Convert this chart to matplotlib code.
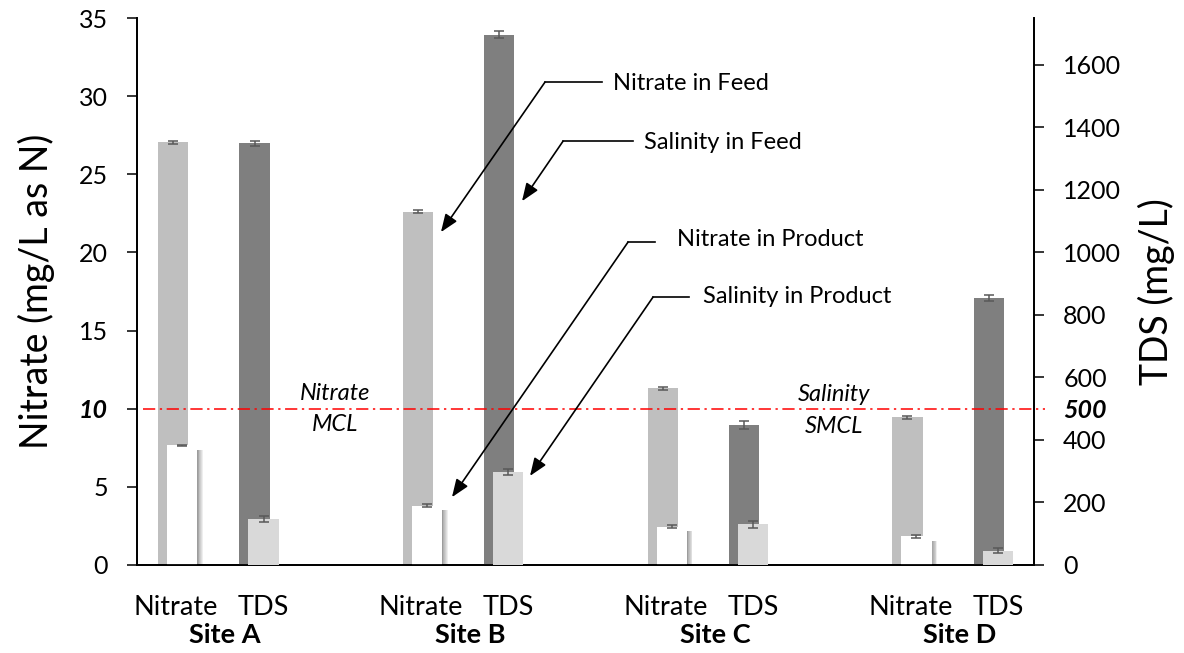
import numpy as np
import matplotlib
matplotlib.use('Agg')
from matplotlib import pyplot as plt

plt.rcParams['font.family'] = ['Lato', 'DejaVu Sans']

# data
sites = ['Site A', 'Site B', 'Site C', 'Site D']
nitrate_feed = [27.05, 22.6, 11.3, 9.45]          # mg/L as N
nitrate_feed_err = [0.1, 0.1, 0.1, 0.1]
nitrate_product = [7.65, 3.8, 2.45, 1.85]
nitrate_product_err = [0.05, 0.1, 0.1, 0.1]
tds_feed = [1350, 1697, 448, 855]                   # mg/L
tds_feed_err = [8, 12, 12, 10]
tds_product = [147, 297, 130, 45]
tds_product_err = [10, 10, 12, 8]
nitrate_mcl = 10
salinity_smcl = 500

# positions
x_nit = np.arange(len(sites)) * 3.0
x_tds = x_nit + 1.0
w = 0.37
off = 0.11

fig = plt.figure(figsize=(11.84, 6.53), dpi=100)
ax = fig.add_axes([137 / 1184, 1 - 565 / 653, 897 / 1184, 547 / 653])
ax2 = ax.twinx()

err_kw = dict(fmt='none', ecolor='#595959', elinewidth=1.1, capsize=3.6, capthick=1.1)

# nitrate bars on the left axis
ax.bar(x_nit, nitrate_feed, w, color='#BFBFBF', zorder=2)
ax.errorbar(x_nit, nitrate_feed, yerr=nitrate_feed_err, zorder=3, **err_kw)
# soft shadow behind the white product bars
for k in range(8):
    ax.bar(x_nit + off + k * 0.01, np.array(nitrate_product) - 0.3, w,
           color='black', alpha=0.065, linewidth=0, zorder=3)
ax.bar(x_nit + off, nitrate_product, w, color='white', zorder=4)
ax.errorbar(x_nit + off, nitrate_product, yerr=nitrate_product_err, zorder=5, **err_kw)

# TDS bars on the right axis
ax2.bar(x_tds, tds_feed, w, color='#7F7F7F', zorder=2)
ax2.errorbar(x_tds, tds_feed, yerr=tds_feed_err, zorder=3, **err_kw)
ax2.bar(x_tds + off, tds_product, w, color='#D9D9D9', zorder=4)
ax2.errorbar(x_tds + off, tds_product, yerr=tds_product_err, zorder=5, **err_kw)

ax.set_xlim(-0.44, 10.55)
ax.set_ylim(0, 35)
ax2.set_ylim(0, 1750)

# limit line (same height on both axes)
ax2.plot([-0.37, 10.68], [salinity_smcl, salinity_smcl], color='#FF0000', lw=1.1,
         linestyle=(0, (8, 3, 1.5, 3)), clip_on=False, zorder=6)

# axes styling
for a in (ax, ax2):
    a.spines['top'].set_visible(False)
    for s in ('left', 'right', 'bottom'):
        a.spines[s].set_linewidth(1.3)
ax.set_xticks([])
ax.set_yticks(np.arange(0, 36, 5))
ax.tick_params(axis='y', direction='out', length=7, width=1.1, labelsize=18, pad=14)
for lab in ax.get_yticklabels():
    if lab.get_text() == '10':
        lab.set_fontweight('bold')
        lab.set_fontstyle('italic')
ax2.set_yticks(np.arange(0, 1700, 200))
ax2.tick_params(axis='y', direction='out', length=7, width=1.1, labelsize=18, pad=14)
ax2.set_yticks([salinity_smcl], labels=[str(salinity_smcl)], minor=True)
ax2.tick_params(axis='y', which='minor', length=0, labelsize=18, pad=21)
for lab in ax2.get_yticklabels(minor=True):
    lab.set_fontweight('bold')
    lab.set_fontstyle('italic')

ax.set_ylabel('Nitrate (mg/L as N)', fontsize=27, labelpad=17)
ax2.set_ylabel('TDS (mg/L)', fontsize=27, labelpad=12)

# category labels below the axis
tr = ax.get_xaxis_transform()
for i in range(len(sites)):
    ax.text(x_nit[i] + 0.04, -0.077, 'Nitrate', transform=tr, ha='center', va='center', fontsize=19.5)
    ax.text(x_tds[i] + 0.11, -0.077, 'TDS', transform=tr, ha='center', va='center', fontsize=19.5)
    ax.text(x_nit[i] + 0.64, -0.128, sites[i], transform=tr, ha='center', va='center',
            fontsize=19.5, fontweight='bold')

# MCL labels
ax.text(1.985, 11.0, 'Nitrate', ha='center', va='center', fontsize=17, style='italic')
ax.text(1.985, 8.96, 'MCL', ha='center', va='center', fontsize=17, style='italic')
ax.text(8.10, 10.9, 'Salinity', ha='center', va='center', fontsize=17, style='italic')
ax.text(8.10, 8.85, 'SMCL', ha='center', va='center', fontsize=17, style='italic')

# callouts: (text, text pos, line start, elbow, arrow tip) in TDS-axis units
callouts = [
    ('Nitrate in Feed', (5.39, 1539), (5.257, 1545), (4.559, 1545), (3.284, 1065)),
    ('Salinity in Feed', (5.772, 1353), (5.637, 1356), (4.78, 1356), (4.277, 1164)),
    ('Nitrate in Product', (6.177, 1040), (5.907, 1033), (5.576, 1033), (3.419, 217)),
    ('Salinity in Product', (6.495, 860), (6.324, 857), (5.882, 857), (4.375, 285)),
]
for txt, tpos, start, elbow, tip in callouts:
    ax2.text(tpos[0], tpos[1], txt, ha='left', va='center', fontsize=17, zorder=7)
    ax2.plot([start[0], elbow[0]], [start[1], elbow[1]], color='black', lw=1.2, zorder=7)
    ax2.annotate('', xy=tip, xytext=elbow,
                 arrowprops=dict(arrowstyle='-|>,head_length=0.9,head_width=0.35',
                                 mutation_scale=12, color='black', lw=1.2,
                                 shrinkA=0, shrinkB=0), zorder=7)

fig.savefig('out.png', dpi=100)
